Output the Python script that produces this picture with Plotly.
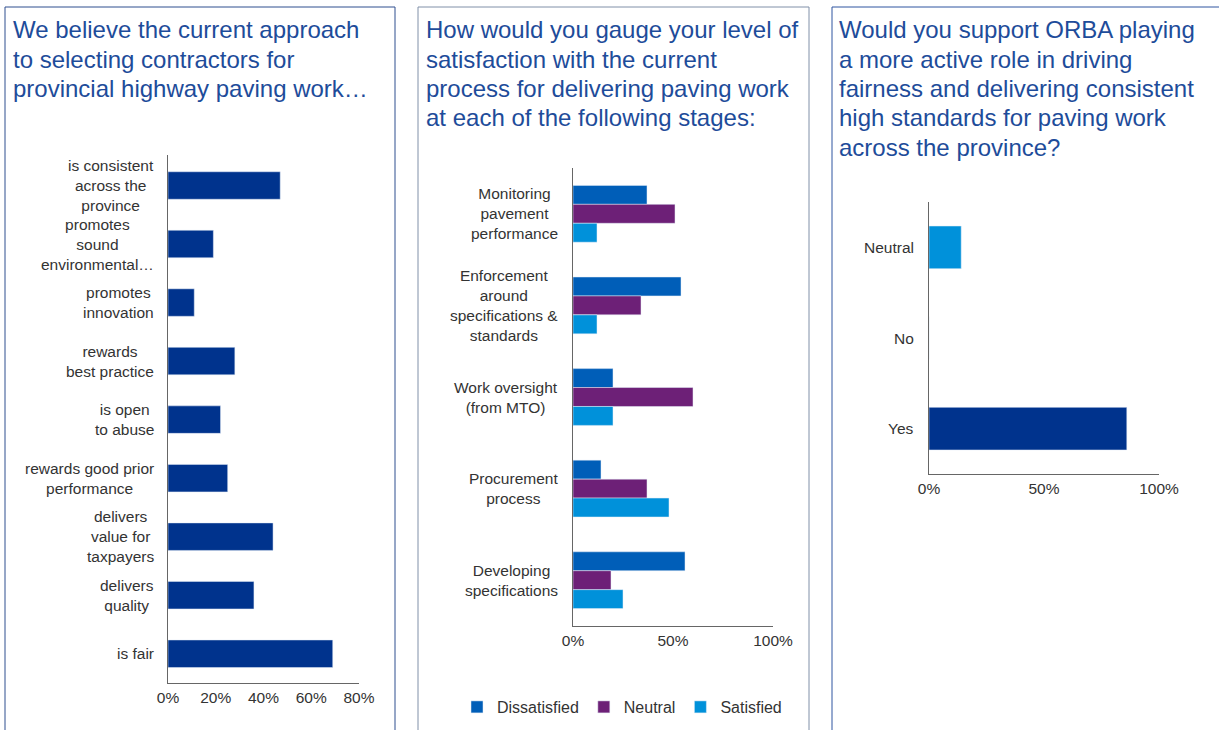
import plotly.graph_objects as go

W, H = 1219, 730


def px(x):
    return x / W


def py(y):
    return 1 - y / H


# ---------------- data ----------------
p1_title = ["We believe the current approach",
            "to selecting contractors for",
            "provincial highway paving work…"]
p1_categories = ["is consistent<br>across the<br>province",
                 "promotes<br>sound<br>environmental…",
                 "promotes<br>innovation",
                 "rewards<br>best practice",
                 "is open<br>to abuse",
                 "rewards good prior<br>performance",
                 "delivers<br>value for<br>taxpayers",
                 "delivers<br>quality",
                 "is fair"]
p1_values = [47, 19, 11, 28, 22, 25, 44, 36, 69]
p1_tickvals = [0, 20, 40, 60, 80]
p1_ticktext = ["0%", "20%", "40%", "60%", "80%"]

p2_title = ["How would you gauge your level of",
            "satisfaction with the current",
            "process for delivering paving work",
            "at each of the following stages:"]
p2_stages = ["Monitoring<br>pavement<br>performance",
             "Enforcement<br>around<br>specifications &<br>standards",
             "Work oversight<br>(from MTO)",
             "Procurement<br>process",
             "Developing<br>specifications"]
p2_dissatisfied = [37, 54, 20, 14, 56]
p2_neutral = [51, 34, 60, 37, 19]
p2_satisfied = [12, 12, 20, 48, 25]
p2_tickvals = [0, 50, 100]
p2_ticktext = ["0%", "50%", "100%"]

p3_title = ["Would you support ORBA playing",
            "a more active role in driving",
            "fairness and delivering consistent",
            "high standards for paving work",
            "across the province?"]
p3_answers = ["Neutral", "No", "Yes"]
p3_values = [14, 0, 86]
p3_tickvals = [0, 50, 100]
p3_ticktext = ["0%", "50%", "100%"]

# ---------------- styles ----------------
NAVY = "#00338D"
MED_BLUE = "#005EB8"
PURPLE = "#6D2077"
LIGHT_BLUE = "#0091DA"
TITLE_COLOR = "#1E4C9A"
TEXT = "#333333"
AXIS = "#666666"
FONT = "Liberation Sans, Arial, sans-serif"
LABEL_SIZE = 15.5

fig = go.Figure()

fig.add_trace(go.Bar(y=p1_categories, x=p1_values, orientation="h",
                     marker=dict(color=NAVY), width=0.47,
                     xaxis="x", yaxis="y", showlegend=False))

for name, vals, col in [("Dissatisfied", p2_dissatisfied, MED_BLUE),
                        ("Neutral", p2_neutral, PURPLE),
                        ("Satisfied", p2_satisfied, LIGHT_BLUE)]:
    fig.add_trace(go.Bar(y=p2_stages, x=vals, orientation="h", name=name,
                         marker=dict(color=col), xaxis="x2", yaxis="y2"))

fig.add_trace(go.Bar(y=p3_answers, x=p3_values, orientation="h",
                     marker=dict(color=[LIGHT_BLUE, LIGHT_BLUE, NAVY]), width=0.47,
                     xaxis="x3", yaxis="y3", showlegend=False))

tickfont = dict(family=FONT, size=LABEL_SIZE, color=TEXT)


def xax(dom, rng, tv, tt, anchor):
    return dict(domain=dom, range=rng, tickvals=tv, ticktext=tt, anchor=anchor,
                showline=True, linecolor=AXIS, linewidth=1, showgrid=False,
                zeroline=False, ticks="", tickfont=tickfont, fixedrange=True)


def yax(dom, anchor):
    return dict(domain=dom, anchor=anchor, autorange="reversed", type="category",
                showline=True, linecolor=AXIS, linewidth=1, showgrid=False,
                zeroline=False, ticks="", showticklabels=False, fixedrange=True)


annotations = []


def add_title(lines, x, y0, step=29.3):
    for i, line in enumerate(lines):
        annotations.append(dict(text=line, xref="paper", yref="paper",
                                x=px(x), y=py(y0 + i * step), xanchor="left",
                                yanchor="middle", showarrow=False,
                                font=dict(family=FONT, size=24, color=TITLE_COLOR)))


def add_ylabels(cats, xref, yref, shift):
    for c in cats:
        annotations.append(dict(text=c, xref=xref, yref=yref, x=0, y=c,
                                xanchor="right", yanchor="middle", align="center",
                                xshift=shift, showarrow=False,
                                font=dict(family=FONT, size=LABEL_SIZE, color=TEXT)))


add_title(p1_title, 11, 30)
add_title(p2_title, 424, 30)
add_title(p3_title, 837, 30)
add_ylabels(p1_categories, "x domain", "y", -12)
add_ylabels(p2_stages, "x2 domain", "y2", -13)
add_ylabels(p3_answers, "x3 domain", "y3", -13)

shapes = [
    dict(type="rect", xref="paper", yref="paper", x0=px(5), x1=px(395),
         y0=py(7), y1=py(745), line=dict(color="#2F4F8F", width=1)),
    dict(type="rect", xref="paper", yref="paper", x0=px(418), x1=px(809),
         y0=py(7), y1=py(745), line=dict(color="#8090A8", width=1)),
    dict(type="rect", xref="paper", yref="paper", x0=px(832), x1=px(1240),
         y0=py(7), y1=py(745), line=dict(color="#2F55A0", width=1)),
]

fig.update_layout(
    width=W, height=H, margin=dict(l=0, r=0, t=0, b=0, autoexpand=False),
    paper_bgcolor="white", plot_bgcolor="white",
    barmode="group", bargap=0.38, bargroupgap=0,
    xaxis=xax([px(168), px(359)], [0, 80], p1_tickvals, p1_ticktext, "y"),
    yaxis=yax([py(683), py(155)], "x"),
    xaxis2=xax([px(573), px(773)], [0, 100], p2_tickvals, p2_ticktext, "y2"),
    yaxis2=yax([py(626), py(168)], "x2"),
    xaxis3=xax([px(929), px(1159)], [0, 100], p3_tickvals, p3_ticktext, "y3"),
    yaxis3=yax([py(474), py(202)], "x3"),
    legend=dict(orientation="h", x=px(457), y=py(707), xanchor="left",
                yanchor="middle", font=dict(family=FONT, size=16, color=TEXT),
                bgcolor="rgba(0,0,0,0)"),
    annotations=annotations, shapes=shapes,
    font=dict(family=FONT, color=TEXT),
)

fig.write_html("out.html")
